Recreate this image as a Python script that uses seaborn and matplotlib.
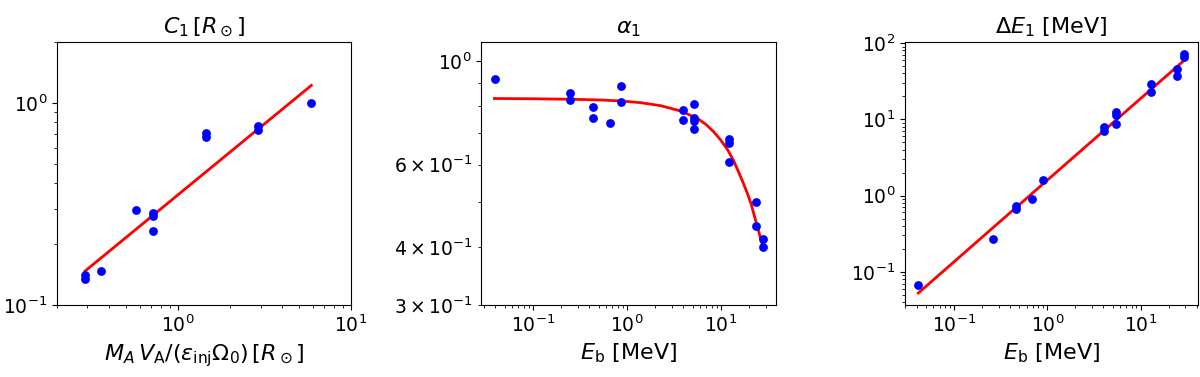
import matplotlib
matplotlib.use("Agg")
import matplotlib.pyplot as plt
import seaborn as sns

# Panel 1: C1 vs M_A V_A/(eps Omega0)
c1_x = [0.29, 0.29, 0.36, 0.575, 0.72, 0.72, 0.72, 1.45, 1.45, 2.9, 2.9, 5.85]
c1_y = [0.135, 0.14, 0.147, 0.296, 0.286, 0.276, 0.232, 0.709, 0.678, 0.765, 0.731, 1.0]
c1_fit_x = [0.29, 5.9]
c1_fit_y = [0.147, 1.22]

# Panel 2: alpha1 vs Eb
a1_x = [0.04, 0.25, 0.25, 0.44, 0.44, 0.66, 0.86, 0.86, 3.94, 3.94, 5.2, 5.2, 5.2, 5.2,
        12.25, 12.25, 12.25, 23.6, 23.6, 27.8, 27.8]
a1_y = [0.915, 0.853, 0.825, 0.796, 0.755, 0.737, 0.886, 0.818, 0.786, 0.75, 0.809, 0.756,
        0.746, 0.715, 0.681, 0.667, 0.609, 0.499, 0.443, 0.416, 0.40]
a1_fit_x = [0.039, 0.1, 0.25, 0.53, 0.86, 1.41, 2.3, 3.75, 5.65, 7.0, 8.5, 10.0, 11.8,
            13.5, 15.1, 17.0, 19.2, 21.0, 22.6, 24.6, 26.2, 27.6]
a1_fit_y = [0.832, 0.831, 0.829, 0.826, 0.822, 0.815, 0.803, 0.782, 0.754, 0.731, 0.704,
            0.677, 0.646, 0.615, 0.585, 0.553, 0.520, 0.494, 0.468, 0.440, 0.420, 0.405]

# Panel 3: Delta E1 vs Eb
de_x = [0.0414, 0.26, 0.46, 0.46, 0.69, 0.89, 4.08, 4.08, 5.42, 5.42, 5.42,
        12.8, 12.8, 24.4, 24.4, 28.9, 28.9]
de_y = [0.067, 0.27, 0.72, 0.67, 0.90, 1.60, 7.94, 6.98, 12.4, 11.3, 8.6,
        28.6, 22.7, 46.2, 37.1, 71.9, 66.4]
de_fit_x = [0.0414, 29.7]
de_fit_y = [0.0527, 60.0]

fig = plt.figure(figsize=(12, 3.77), dpi=100)
W, H = 1200, 377
def add_ax(l, r, t, b):
    return fig.add_axes([l / W, 1 - b / H, (r - l) / W, (b - t) / H])

ax1 = add_ax(57, 351, 42, 305)
ax2 = add_ax(481, 776, 42, 305)
ax3 = add_ax(905, 1198, 42, 305)

TICK = 13.5
LAB = 16

def draw(ax, px, py, fx, fy):
    sns.lineplot(x=fx, y=fy, ax=ax, color="red", linewidth=2, estimator=None, sort=False, zorder=2)
    sns.scatterplot(x=px, y=py, ax=ax, color="blue", s=40, linewidth=0, zorder=3)
    ax.set_xscale("log")
    ax.set_yscale("log")
    ax.tick_params(which="both", labelsize=TICK)

draw(ax1, c1_x, c1_y, c1_fit_x, c1_fit_y)
ax1.set_xlim(0.2, 10)
ax1.set_ylim(0.1, 2)
ax1.set_title(r"$C_1\,[R_\odot]$", fontsize=LAB)
ax1.set_xlabel(r"$M_A\,V_{\rm A}/(\varepsilon_{\rm inj}\Omega_0)\,[R_\odot]$", fontsize=LAB)

draw(ax2, a1_x, a1_y, a1_fit_x, a1_fit_y)
ax2.set_ylim(0.3, 1.1)
ax2.set_title(r"$\alpha_1$", fontsize=LAB)
ax2.set_xlabel(r"$E_{\rm b}$ [MeV]", fontsize=LAB)

draw(ax3, de_x, de_y, de_fit_x, de_fit_y)
ax3.set_title(r"$\Delta E_1$ [MeV]", fontsize=LAB)
ax3.set_xlabel(r"$E_{\rm b}$ [MeV]", fontsize=LAB)

fig.savefig("out.png", dpi=100)
